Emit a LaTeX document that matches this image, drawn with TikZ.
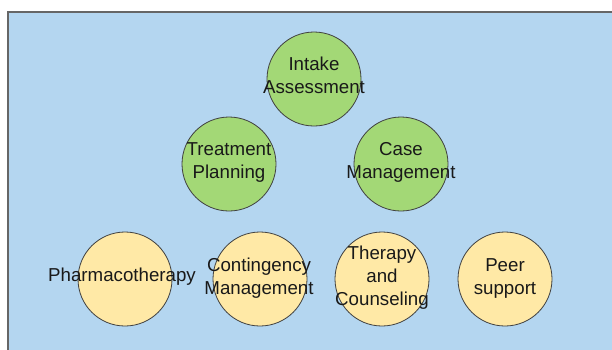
\documentclass[tikz,border=0pt]{standalone}
\usepackage{fontspec}
\setmainfont{Liberation Sans}
\begin{document}
\begin{tikzpicture}[x=1pt,y=-1pt,
  circ/.style={circle,draw=black!75,line width=0.8pt,minimum size=94pt,inner sep=0pt},
  green/.style={circ,fill=stepgreen},
  yellow/.style={circ,fill=stepyellow},
  txt/.style={align=center,font=\fontsize{18.7}{23}\selectfont,inner sep=0pt,text=black!90}]
\definecolor{bgblue}{RGB}{180,214,240}
\definecolor{stepgreen}{RGB}{163,216,118}
\definecolor{stepyellow}{RGB}{255,233,166}
\useasboundingbox (0,0) rectangle (612,349);
% panel
\fill[white] (0,0) rectangle (612,349);
\draw[fill=bgblue,draw=black!60,line width=1.5pt] (8,12) rectangle (630,370);
% top
\node[green] (intake) at (314,79) {};
\node[txt] (intaket) at (314,75.5) {Intake\\Assessment};
% middle row
\node[green] (plan) at (229,164) {};
\node[txt] (plant) at (229,163) {Treatment\\Planning};
\node[green] (case) at (401,164) {};
\node[txt] (caset) at (401,162) {Case\\Management};
% bottom row
\node[yellow] (pharma) at (125,279) {};
\node[txt,anchor=base] (pharmat) at (122,281) {Pharmacotherapy};
\node[yellow] (cont) at (260,279) {};
\node[txt] (contt) at (259,278) {Contingency\\Management};
\node[yellow] (ther) at (382,279) {};
\node[txt] (thert) at (382,278) {Therapy\\and\\Counseling};
\node[yellow] (peer) at (505,279) {};
\node[txt] (peert) at (505,278) {Peer\\support};
\end{tikzpicture}
\end{document}
